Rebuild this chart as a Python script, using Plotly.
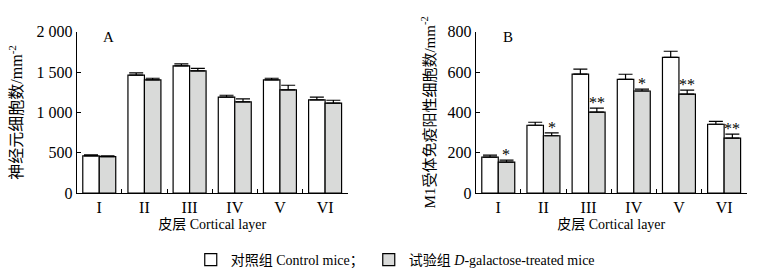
import plotly.graph_objects as go

layers = ["I", "II", "III", "IV", "V", "VI"]

# Panel A: neuron density (cells/mm^2)
a_control = [460, 1462, 1575, 1188, 1402, 1155]
a_control_err = [12, 28, 25, 24, 21, 33]
a_treated = [452, 1402, 1513, 1130, 1278, 1115]
a_treated_err = [8, 21, 33, 37, 58, 35]

# Panel B: M1 receptor immunopositive cells (cells/mm^2)
b_control = [178, 336, 590, 564, 673, 341]
b_control_err = [10, 15, 24, 25, 30, 14]
b_treated = [153, 284, 401, 506, 490, 272]
b_treated_err = [10, 14, 20, 9, 20, 20]
b_sig = ["*", "*", "**", "*", "**", "**"]

FONT = "Liberation Serif, Times New Roman, serif"
CJK = "Liberation Serif, Noto Sans CJK SC, serif"
CTRL_NAME = "对照组 Control mice；"
TREAT_NAME = "试验组 <i>D</i>-galactose-treated mice"
GRAY = "#d9dad9"

fig = go.Figure()

def add_panel(xa, ya, ctrl, ctrl_err, trt, trt_err, show):
    fig.add_trace(go.Bar(
        x=layers, y=ctrl, name=CTRL_NAME, xaxis=xa, yaxis=ya,
        marker=dict(color="white", line=dict(color="black", width=1.2)),
        error_y=dict(type="data", array=ctrl_err, arrayminus=[0] * len(ctrl),
                     symmetric=False, color="black", thickness=1.2, width=7),
        showlegend=show, legendgroup="c"))
    fig.add_trace(go.Bar(
        x=layers, y=trt, name=TREAT_NAME, xaxis=xa, yaxis=ya,
        marker=dict(color=GRAY, line=dict(color="black", width=1.2)),
        error_y=dict(type="data", array=trt_err, arrayminus=[0] * len(trt),
                     symmetric=False, color="black", thickness=1.2, width=7),
        showlegend=show, legendgroup="t"))

add_panel("x", "y", a_control, a_control_err, a_treated, a_treated_err, True)
add_panel("x2", "y2", b_control, b_control_err, b_treated, b_treated_err, False)

# significance marks above treated bars in panel B
for lab, v, e, s in zip(layers, b_treated, b_treated_err, b_sig):
    fig.add_annotation(x=lab, y=v + e, xref="x2", yref="y2", text=s,
                       showarrow=False, xshift=8.2, yanchor="bottom", yshift=-5,
                       font=dict(family=FONT, size=16, color="black"))

ydom = [0.2904, 0.8835]
xaxis_common = dict(
    type="category", range=[-0.5, 5.5], showline=True, linecolor="black",
    linewidth=1, ticks="inside", ticklen=4, tickcolor="black", tickson="boundaries",
    tickfont=dict(family=FONT, size=16, color="black"), showgrid=False, zeroline=False,
    automargin=False,
    title=dict(text="皮层 Cortical layer", font=dict(family=CJK, size=14, color="black"), standoff=3),
)
yaxis_common = dict(
    showline=True, linecolor="black", linewidth=1, ticks="inside", ticklen=4,
    tickcolor="black", tickfont=dict(family=FONT, size=16, color="black"),
    showgrid=False, zeroline=False, domain=ydom, automargin=False,
)

fig.update_layout(
    width=766, height=272, margin=dict(l=0, r=0, t=0, b=0, autoexpand=False),
    paper_bgcolor="white", plot_bgcolor="white",
    barmode="group", bargap=0.27, bargroupgap=0,
    xaxis=dict(domain=[0.1001, 0.4539], anchor="y", **xaxis_common),
    xaxis2=dict(domain=[0.621, 0.9748], anchor="y2", **xaxis_common),
    yaxis=dict(anchor="x", range=[0, 2000], tickvals=[0, 500, 1000, 1500, 2000],
               ticktext=["0", "500", "1 000", "1 500", "2 000"],
               title=dict(text="神经元细胞数/mm<sup>-2</sup>", font=dict(family=CJK, size=16, color="black"), standoff=9),
               **yaxis_common),
    yaxis2=dict(anchor="x2", range=[0, 800], tickvals=[0, 200, 400, 600, 800],
                title=dict(text="M1受体免疫阳性细胞数/mm<sup>-2</sup>", font=dict(family=CJK, size=15, color="black"), standoff=8),
                **yaxis_common),
    legend=dict(orientation="h", x=0.516, xanchor="center", y=0.044, yanchor="middle",
                font=dict(family=CJK, size=14, color="black"), bgcolor="rgba(0,0,0,0)",
                itemwidth=30, traceorder="normal"),
    showlegend=True,
)

fig.add_annotation(text="A", x=0.141, y=0.864, xref="paper", yref="paper", showarrow=False,
                   xanchor="center", yanchor="middle",
                   font=dict(family=FONT, size=15, color="black"))
fig.add_annotation(text="B", x=0.663, y=0.864, xref="paper", yref="paper", showarrow=False,
                   xanchor="center", yanchor="middle",
                   font=dict(family=FONT, size=15, color="black"))

fig.write_html("out.html", config={"displayModeBar": False},
               post_script="document.body.style.margin='0';")
